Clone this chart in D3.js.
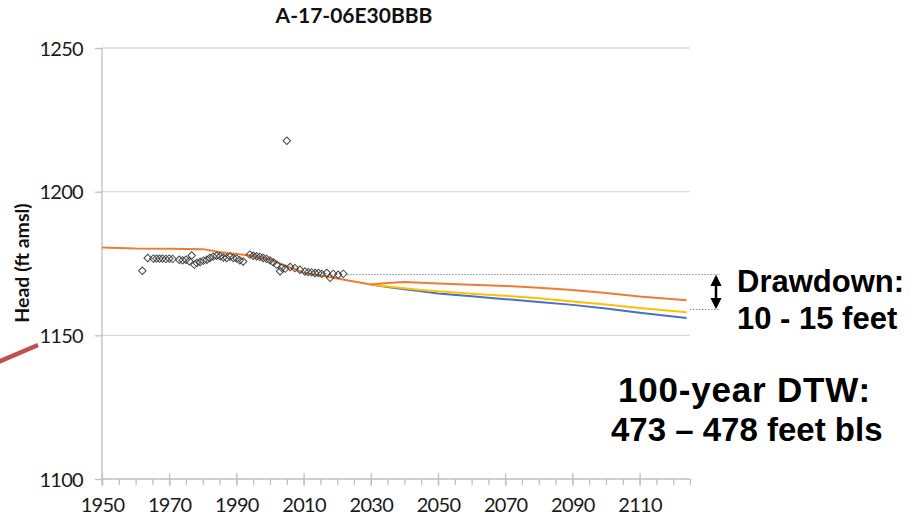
<!DOCTYPE html>
<html>
<head>
<meta charset="utf-8">
<script src="https://cdn.jsdelivr.net/npm/d3@7"></script>
<style>
  html, body { margin: 0; padding: 0; background: #fff; }
  svg { display: block; }
</style>
</head>
<body>
<svg id="chart" width="914" height="520"></svg>
<script>
// Well A-17-06E30BBB: observed heads and simulated heads (ft amsl)
const chartTitle = "A-17-06E30BBB";
const yTicks = [1100, 1150, 1200, 1250];
const xTicks = [1950, 1970, 1990, 2010, 2030, 2050, 2070, 2090, 2110];

// Observed water levels
const obsYears = [1962, 1963.6, 1965.3, 1966.2, 1967.1, 1968, 1969, 1970, 1971,
  1973, 1974, 1975, 1976, 1976.7, 1977.5, 1978.2, 1979.2, 1980.2, 1981.2, 1982.1,
  1983.1, 1984.1, 1985.1, 1986.1, 1987.1, 1988.1, 1989.1, 1990.1, 1991, 1992,
  1994, 1995, 1996, 1997, 1998, 1999, 2000, 2001, 2002, 2003, 2003.5, 2004.5,
  2005, 2006, 2007.4, 2008.9, 2010.4, 2011.4, 2012.4, 2013.4, 2014.4, 2015.4,
  2016.9, 2017.9, 2018.8, 2020.3, 2021.8];
const obsHead = [1172.5, 1176.9, 1176.7, 1176.7, 1176.7, 1176.7, 1176.6, 1176.7, 1176.6,
  1176.3, 1176.1, 1176.3, 1175.8, 1177.8, 1174.6, 1175.2, 1175.5, 1176.0, 1176.3, 1176.9,
  1177.4, 1177.7, 1177.5, 1177.1, 1176.9, 1177.4, 1176.9, 1176.7, 1176.1, 1175.7,
  1178.1, 1177.7, 1177.5, 1177.3, 1176.9, 1176.6, 1176.1, 1175.4, 1174.6, 1172.3, 1173.5, 1173.2,
  1217.7, 1173.8, 1173.4, 1172.8, 1172.2, 1172.0, 1171.9, 1171.7, 1171.7, 1171.4,
  1171.7, 1170.0, 1171.4, 1171.1, 1171.4];

// Simulated historical head
const histYears = [1950, 1960, 1970, 1980, 1985, 1990, 1995, 2000, 2003, 2005, 2008, 2010, 2015, 2020, 2025, 2030];
const histHead  = [1180.6, 1180.2, 1180.1, 1180.0, 1179.0, 1178.3, 1177.7, 1176.3, 1175.0, 1174.0, 1172.8, 1171.8, 1170.8, 1169.8, 1168.7, 1167.7];

// Simulated future heads, three pumping scenarios
const futureYears = [2030, 2035, 2040, 2045, 2050, 2060, 2070, 2080, 2090, 2100, 2110, 2124];
const scenarioOrange = [1167.7, 1168.2, 1168.6, 1168.3, 1168.0, 1167.6, 1167.2, 1166.6, 1165.8, 1164.7, 1163.5, 1162.2];
const scenarioYellow = [1167.7, 1167.0, 1166.4, 1165.8, 1165.3, 1164.5, 1163.8, 1162.9, 1161.8, 1160.7, 1159.5, 1158.0];
const scenarioBlue   = [1167.7, 1166.8, 1166.0, 1165.3, 1164.6, 1163.6, 1162.6, 1161.6, 1160.6, 1159.3, 1157.9, 1156.0];

// Drawdown bracket levels
const drawdownTop = 1171.2;
const drawdownBottom = 1159.0;

const svg = d3.select("#chart");
const plot = { left: 102, right: 690, top: 48, bottom: 479 };

const x = d3.scaleLinear().domain([1950, 2125]).range([plot.left, plot.right]);
const y = d3.scaleLinear().domain([1100, 1250]).range([plot.bottom, plot.top]);

const labelFont = "Lato, 'Open Sans', sans-serif";

// Gridlines
svg.append("g")
  .selectAll("line")
  .data(yTicks.filter(d => d > 1100))
  .join("line")
  .attr("x1", plot.left).attr("x2", plot.right)
  .attr("y1", d => y(d)).attr("y2", d => y(d))
  .attr("stroke", "#d9d9d9").attr("stroke-width", 1.3);

// Y axis
const yAxis = svg.append("g")
  .attr("transform", `translate(${plot.left},0)`)
  .call(d3.axisLeft(y).tickValues(yTicks).tickSize(7).tickPadding(12).tickFormat(d3.format("d")));
yAxis.select(".domain").attr("stroke", "#bfbfbf").attr("stroke-width", 1.3)
  .attr("d", `M0,${plot.top}V${plot.bottom + 6}`);
yAxis.selectAll(".tick line").attr("stroke", "#bfbfbf").attr("stroke-width", 1.3);
yAxis.selectAll(".tick text").attr("font-family", labelFont).attr("font-size", 20)
  .attr("letter-spacing", -0.7).attr("fill", "#1a1a1a").attr("dy", "0.36em");

// X axis: minor ticks every 5 years, major every 20
const xAxisMinor = svg.append("g")
  .attr("transform", `translate(0,${plot.bottom})`)
  .call(d3.axisBottom(x).tickValues(d3.range(1950, 2126, 5)).tickSize(6).tickFormat(""));
xAxisMinor.select(".domain").attr("stroke", "#bfbfbf").attr("stroke-width", 1.3)
  .attr("d", `M${plot.left},0H${plot.right}`);
xAxisMinor.selectAll(".tick line").attr("stroke", "#bfbfbf").attr("stroke-width", 1.3);

const xAxis = svg.append("g")
  .attr("transform", `translate(0,${plot.bottom})`)
  .call(d3.axisBottom(x).tickValues(xTicks).tickSize(7).tickPadding(12).tickFormat(d3.format("d")));
xAxis.select(".domain").remove();
xAxis.selectAll(".tick line").attr("stroke", "#bfbfbf").attr("stroke-width", 1.3).attr("y1", -6);
xAxis.selectAll(".tick text").attr("font-family", labelFont).attr("font-size", 20)
  .attr("letter-spacing", -0.7).attr("fill", "#1a1a1a");

// Simulated lines
const line = d3.line().x(d => x(d[0])).y(d => y(d[1]));
const series = [
  { name: "Scenario blue", color: "#4472c4", years: futureYears, values: scenarioBlue },
  { name: "Scenario yellow", color: "#ffc000", years: futureYears, values: scenarioYellow },
  { name: "Scenario orange", color: "#ed7d31", years: futureYears, values: scenarioOrange },
  { name: "Historical", color: "#ed7d31", years: histYears, values: histHead }
];
svg.append("g")
  .selectAll("path")
  .data(series)
  .join("path")
  .attr("d", s => line(s.years.map((yr, i) => [yr, s.values[i]])))
  .attr("fill", "none")
  .attr("stroke", s => s.color)
  .attr("stroke-width", 2)
  .attr("stroke-linejoin", "round");

// Observed points
const diamond = d3.symbol().type(d3.symbolSquare).size(28);
svg.append("g")
  .selectAll("path")
  .data(obsYears.map((yr, i) => [yr, obsHead[i]]))
  .join("path")
  .attr("d", diamond)
  .attr("transform", d => `translate(${x(d[0])},${y(d[1])}) rotate(45)`)
  .attr("fill", "none")
  .attr("stroke", "#444")
  .attr("stroke-width", 1);

// Drawdown bracket
const bracketX = 716;
const lastObsYear = obsYears[obsYears.length - 1];
svg.append("line")
  .attr("x1", x(lastObsYear) + 4).attr("x2", bracketX + 4)
  .attr("y1", y(drawdownTop)).attr("y2", y(drawdownTop))
  .attr("stroke", "#8a8a8a").attr("stroke-width", 1).attr("stroke-dasharray", "1.5,1.5");
svg.append("line")
  .attr("x1", plot.right).attr("x2", bracketX + 4)
  .attr("y1", y(drawdownBottom)).attr("y2", y(drawdownBottom))
  .attr("stroke", "#8a8a8a").attr("stroke-width", 1).attr("stroke-dasharray", "1.5,1.5");

const defs = svg.append("defs");
defs.append("marker")
  .attr("id", "arrowhead")
  .attr("viewBox", "0 0 10 10").attr("refX", 5).attr("refY", 5)
  .attr("markerWidth", 4.5).attr("markerHeight", 4.5)
  .attr("orient", "auto-start-reverse")
  .append("path").attr("d", "M0,0L10,5L0,10Z").attr("fill", "#000");
svg.append("line")
  .attr("x1", bracketX).attr("x2", bracketX)
  .attr("y1", y(drawdownTop) + 6).attr("y2", y(drawdownBottom) - 6)
  .attr("stroke", "#000").attr("stroke-width", 2.5)
  .attr("marker-start", "url(#arrowhead)").attr("marker-end", "url(#arrowhead)");

// Callout pointer
svg.append("line")
  .attr("x1", -4).attr("y1", 363).attr("x2", 38).attr("y2", 345)
  .attr("stroke", "#c0504d").attr("stroke-width", 4.5);

// Title
svg.append("text")
  .attr("x", 354).attr("y", 23)
  .attr("text-anchor", "middle")
  .attr("font-family", labelFont).attr("font-weight", "bold").attr("font-size", 21)
  .attr("fill", "#111")
  .text(chartTitle);

// Y axis title
svg.append("text")
  .attr("transform", "translate(29,263) rotate(-90)")
  .attr("text-anchor", "middle")
  .attr("font-family", labelFont).attr("font-weight", "bold").attr("font-size", 19.5)
  .attr("fill", "#111")
  .text("Head (ft amsl)");

// Annotations
const noteFont = "'Liberation Sans', Arial, sans-serif";
const notes = [
  { x: 737, y: 292, size: 31, spacing: 0, text: "Drawdown:" },
  { x: 737, y: 329, size: 31, spacing: 0, text: "10 - 15 feet" },
  { x: 618, y: 402, size: 35, spacing: 0.8, text: "100-year DTW:" },
  { x: 611, y: 441, size: 33, spacing: 0, text: "473 – 478 feet bls" }
];
svg.append("g")
  .selectAll("text")
  .data(notes)
  .join("text")
  .attr("x", d => d.x).attr("y", d => d.y)
  .attr("font-family", noteFont).attr("font-weight", "bold").attr("font-size", d => d.size)
  .attr("letter-spacing", d => d.spacing)
  .attr("fill", "#000")
  .text(d => d.text);
</script>
</body>
</html>
